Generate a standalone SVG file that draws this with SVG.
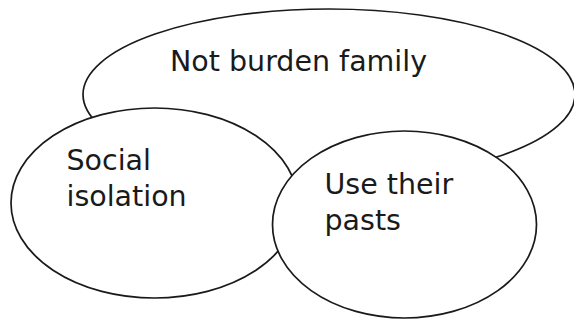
<svg xmlns="http://www.w3.org/2000/svg" width="574" height="320" viewBox="0 0 574 320">
<style>
.node ellipse{fill:#fff;stroke:#1a1a1a;stroke-width:1.7}
.node text{font-family:"DejaVu Sans","Verdana",sans-serif;font-size:28.5px;fill:#1a1a1a}
</style>
<rect width="574" height="320" fill="#fff"/>
<g id="connectors"></g>
<g id="node-family" class="node">
<ellipse cx="329" cy="94.5" rx="246" ry="85.5"/>
<text x="170" y="71">Not burden family</text>
</g>
<g id="node-social" class="node">
<ellipse cx="154.5" cy="203" rx="143.5" ry="95"/>
<text x="66.5"><tspan x="66.5" y="169.5">Social</tspan><tspan x="66.5" y="205.5">isolation</tspan></text>
</g>
<g id="node-pasts" class="node">
<ellipse cx="404.5" cy="224.5" rx="132" ry="93.5"/>
<text x="324.5"><tspan x="324.5" y="194">Use their</tspan><tspan x="324.5" y="230">pasts</tspan></text>
</g>
</svg>
